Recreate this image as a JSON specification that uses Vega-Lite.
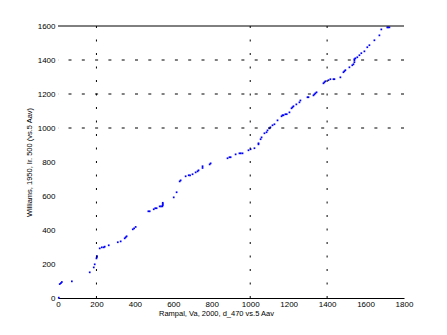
{
  "$schema": "https://vega.github.io/schema/vega-lite/v6.json",
  "width": 346,
  "height": 272,
  "autosize": "none",
  "padding": {"left": 58, "top": 26, "right": 43, "bottom": 37},
  "background": "white",
  "config": {
    "view": {"stroke": null},
    "axis": {"labelFont": "Liberation Sans", "titleFont": "Liberation Sans", "labelFontSize": 8, "titleFontSize": 7.5, "labelColor": "black", "titleColor": "black", "titleFontWeight": "normal", "grid": false, "ticks": false, "labelFlush": false, "labelOverlap": false, "format": "d"}
  },
  "datasets": {
    "pts": [
      {"x": 4, "y": 2}, {"x": 9, "y": 82}, {"x": 15, "y": 88}, {"x": 20, "y": 94}, {"x": 72, "y": 98},
      {"x": 165, "y": 151}, {"x": 186, "y": 180}, {"x": 191, "y": 198}, {"x": 200, "y": 233}, {"x": 202, "y": 240},
      {"x": 203, "y": 247}, {"x": 217, "y": 292}, {"x": 228, "y": 298}, {"x": 238, "y": 298}, {"x": 243, "y": 302},
      {"x": 264, "y": 310}, {"x": 311, "y": 328}, {"x": 326, "y": 333}, {"x": 347, "y": 351}, {"x": 352, "y": 357},
      {"x": 357, "y": 363}, {"x": 389, "y": 404}, {"x": 396, "y": 410}, {"x": 404, "y": 418}, {"x": 470, "y": 510},
      {"x": 477, "y": 510}, {"x": 498, "y": 522}, {"x": 506, "y": 528}, {"x": 513, "y": 528}, {"x": 529, "y": 539},
      {"x": 536, "y": 539}, {"x": 543, "y": 539}, {"x": 545, "y": 546}, {"x": 545, "y": 553}, {"x": 545, "y": 560},
      {"x": 602, "y": 592}, {"x": 617, "y": 622}, {"x": 633, "y": 686}, {"x": 638, "y": 692}, {"x": 664, "y": 716},
      {"x": 680, "y": 722}, {"x": 687, "y": 722}, {"x": 700, "y": 728}, {"x": 716, "y": 739}, {"x": 726, "y": 745},
      {"x": 731, "y": 751}, {"x": 752, "y": 765}, {"x": 752, "y": 775}, {"x": 789, "y": 786}, {"x": 794, "y": 792},
      {"x": 882, "y": 822}, {"x": 892, "y": 828}, {"x": 898, "y": 828}, {"x": 924, "y": 845}, {"x": 944, "y": 851},
      {"x": 951, "y": 851}, {"x": 960, "y": 851}, {"x": 991, "y": 869}, {"x": 1002, "y": 875}, {"x": 1022, "y": 881},
      {"x": 1043, "y": 904}, {"x": 1043, "y": 910}, {"x": 1054, "y": 934}, {"x": 1059, "y": 945}, {"x": 1074, "y": 969},
      {"x": 1085, "y": 975}, {"x": 1090, "y": 986}, {"x": 1100, "y": 998}, {"x": 1105, "y": 1004}, {"x": 1116, "y": 1016},
      {"x": 1126, "y": 1022}, {"x": 1142, "y": 1045}, {"x": 1163, "y": 1069}, {"x": 1168, "y": 1075}, {"x": 1173, "y": 1075},
      {"x": 1183, "y": 1081}, {"x": 1190, "y": 1081}, {"x": 1204, "y": 1092}, {"x": 1215, "y": 1116}, {"x": 1220, "y": 1122},
      {"x": 1225, "y": 1128}, {"x": 1240, "y": 1139}, {"x": 1256, "y": 1151}, {"x": 1261, "y": 1162}, {"x": 1298, "y": 1181},
      {"x": 1303, "y": 1181}, {"x": 1329, "y": 1192}, {"x": 1334, "y": 1198}, {"x": 1339, "y": 1204}, {"x": 1345, "y": 1210},
      {"x": 1381, "y": 1263}, {"x": 1386, "y": 1269}, {"x": 1391, "y": 1275}, {"x": 1407, "y": 1281}, {"x": 1417, "y": 1287},
      {"x": 1433, "y": 1287}, {"x": 1438, "y": 1287}, {"x": 1469, "y": 1298}, {"x": 1485, "y": 1328}, {"x": 1490, "y": 1334},
      {"x": 1495, "y": 1340}, {"x": 1516, "y": 1357}, {"x": 1531, "y": 1369}, {"x": 1537, "y": 1375}, {"x": 1542, "y": 1387},
      {"x": 1542, "y": 1398}, {"x": 1542, "y": 1405}, {"x": 1547, "y": 1410}, {"x": 1557, "y": 1416}, {"x": 1568, "y": 1428},
      {"x": 1578, "y": 1440}, {"x": 1594, "y": 1451}, {"x": 1609, "y": 1475}, {"x": 1620, "y": 1487}, {"x": 1646, "y": 1516},
      {"x": 1672, "y": 1545}, {"x": 1682, "y": 1580}, {"x": 1713, "y": 1592}, {"x": 1718, "y": 1592}, {"x": 1724, "y": 1592}
    ],
    "vgrid": [{"v": 200}, {"v": 1000}, {"v": 1400}],
    "hgrid": [{"v": 1000}, {"v": 1200}, {"v": 1400}],
    "top": [{"v": 1600}]
  },
  "layer": [
    {
      "data": {"name": "pts"},
      "mark": {"type": "square", "color": "#0000ff", "filled": true, "size": 3, "opacity": 1},
      "encoding": {
        "x": {"field": "x", "type": "quantitative", "scale": {"domain": [0, 1800], "nice": false},
              "axis": {"values": [0, 200, 400, 600, 800, 1000, 1200, 1400, 1600, 1800], "tickCount": 20, "title": "Rampal, Va, 2000, d_470 vs.5 Aav", "domain": true, "domainColor": "black", "domainWidth": 1, "labelPadding": 2, "titlePadding": 1, "titleX": 158, "titleAlign": "center"}},
        "y": {"field": "y", "type": "quantitative", "scale": {"domain": [0, 1600], "nice": false},
              "axis": {"values": [0, 200, 400, 600, 800, 1000, 1200, 1400, 1600], "tickCount": 20, "title": "Williams, 1950, Ir. 500 (vs.5 Aav)", "domain": false, "labelPadding": 3, "titlePadding": 4}}
      }
    },
    {
      "data": {"name": "vgrid"},
      "mark": {"type": "rule", "color": "black", "strokeWidth": 1, "strokeDash": [2, 11.5]},
      "encoding": {"x": {"field": "v", "type": "quantitative"}}
    },
    {
      "data": {"name": "hgrid"},
      "mark": {"type": "rule", "color": "black", "strokeWidth": 1, "strokeDash": [3, 10.3]},
      "encoding": {"y": {"field": "v", "type": "quantitative"}}
    },
    {
      "data": {"name": "top"},
      "mark": {"type": "rule", "color": "black", "strokeWidth": 1},
      "encoding": {"y": {"field": "v", "type": "quantitative"}}
    }
  ]
}
